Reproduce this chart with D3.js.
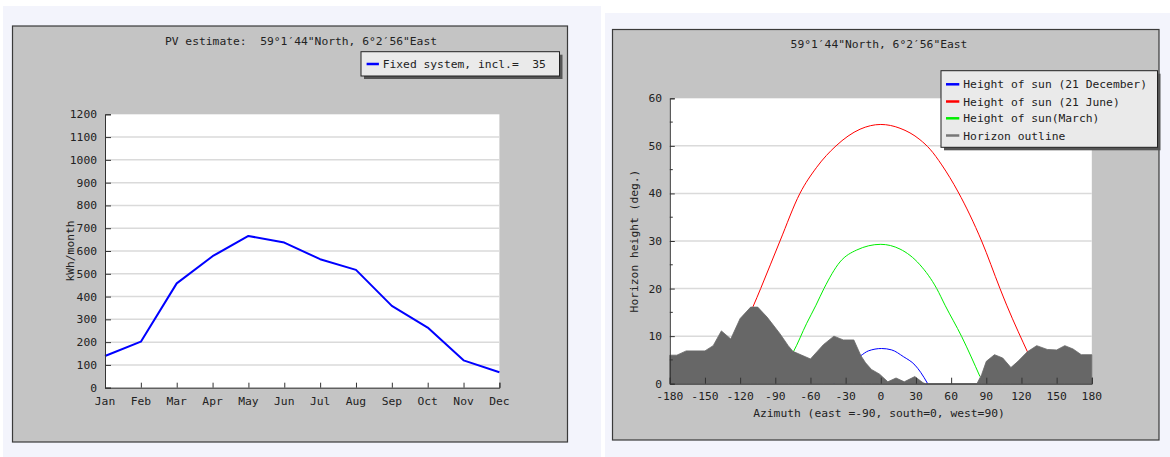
<!DOCTYPE html>
<html>
<head>
<meta charset="utf-8">
<script src="https://cdn.jsdelivr.net/npm/d3@7"></script>
<style>
  html, body { margin: 0; padding: 0; background: #ffffff; }
  svg { display: block; }
  text { font-family: "DejaVu Sans Mono", monospace; font-size: 11.3px; fill: #222; white-space: pre; }
</style>
</head>
<body>
<svg id="chart" width="1170" height="457"></svg>
<script>
// ---- PV estimate (monthly production) ----
const months = ["Jan", "Feb", "Mar", "Apr", "May", "Jun", "Jul", "Aug", "Sep", "Oct", "Nov", "Dec"];
const pvMonthly = [139, 202, 458, 577, 666, 637, 564, 517, 359, 264, 120, 68];
const pvTicks = [0, 100, 200, 300, 400, 500, 600, 700, 800, 900, 1000, 1100, 1200];

// ---- Horizon / sun path (azimuth in degrees, height in degrees) ----
const azimuthTicks = [-180, -150, -120, -90, -60, -30, 0, 30, 60, 90, 120, 150, 180];
const heightTicks = [0, 10, 20, 30, 40, 50, 60];

const sunDecAz = [-40, -30, -17, -10.6, 0.7, 9.3, 19.2, 29.2, 34, 40];
const sunDecH  = [0, 3.6, 5.9, 6.9, 7.4, 7.1, 5.7, 3.9, 2.4, 0];

const sunJunAz = [-128, -120, -109, -102.5, -86, -69, -54.7, -38.2, -17.7, 0, 16.4, 33.4, 42, 52, 66, 86, 101.7, 107.4, 117.3, 125.3, 132];
const sunJunH  = [5, 10.5, 16.2, 20, 30, 40, 45.5, 50, 53.5, 54.5, 53.7, 51.3, 49.3, 46, 40.3, 30, 20, 16.5, 10.9, 6.6, 3];

const sunMarAz = [-86, -74.6, -63.2, -55.3, -48.5, -34.8, -20.6, 0, 16.4, 33.4, 47.7, 54.8, 69, 84.6];
const sunMarH  = [2.5, 6.7, 12.7, 16.5, 20, 25.6, 28.1, 29.3, 28.3, 25, 20, 16.5, 9.9, 1.5];

const horizonAz = [-180, -174, -166, -150, -143, -136, -128, -120, -111, -105, -97, -86, -79, -75, -60, -49, -40, -32, -23, -17, -13, -8, -1, 6, 13, 20, 29, 36, 38, 82, 86, 90, 97, 104, 111, 117, 125, 133, 142, 150, 157, 164, 171, 180];
const horizonH  = [6.0, 6.0, 6.9, 6.9, 8.0, 11.1, 9.4, 13.7, 16.1, 16.1, 14.0, 10.5, 8.0, 6.8, 5.2, 8.2, 10.0, 9.2, 9.2, 5.9, 4.4, 3.0, 2.0, 0.4, 1.2, 0.4, 1.5, 0.2, 0, 0, 1.9, 4.7, 6.1, 5.4, 3.4, 4.7, 6.7, 8.0, 7.2, 7.1, 8.0, 7.3, 6.1, 6.1];

const svg = d3.select("#chart");

// page backgrounds behind each panel
svg.append("rect").attr("x", 3).attr("y", 6).attr("width", 598).attr("height", 451).attr("fill", "#f3f4fc");
svg.append("rect").attr("x", 605).attr("y", 13).attr("width", 565).attr("height", 444).attr("fill", "#f3f4fc");

function panel(x, y, w, h) {
  svg.append("rect").attr("x", x).attr("y", y).attr("width", w).attr("height", h)
    .attr("fill", "#c4c4c4").attr("stroke", "#3a3a3a").attr("stroke-width", 1.2);
}

function legendBox(x, y, w, h) {
  svg.append("rect").attr("x", x + 3).attr("y", y + 3).attr("width", w).attr("height", h).attr("fill", "#555");
  svg.append("rect").attr("x", x).attr("y", y).attr("width", w).attr("height", h)
    .attr("fill", "#eaeaea").attr("stroke", "#222").attr("stroke-width", 1);
}

// ================= Left chart =================
panel(12.5, 26, 555, 416);

const x1 = d3.scalePoint().domain(months).range([105, 499.4]);
const y1 = d3.scaleLinear().domain([0, 1200]).range([387.7, 114.3]);

svg.append("rect").attr("x", 105).attr("y", 114.3).attr("width", 394.4).attr("height", 273.4).attr("fill", "#fff");

svg.append("g").selectAll("line").data(pvTicks.filter(d => d > 0 && d < 1200)).join("line")
  .attr("x1", 105).attr("x2", 499.4)
  .attr("y1", d => y1(d)).attr("y2", d => y1(d))
  .attr("stroke", "#dadada").attr("stroke-width", 1.5);

svg.append("path")
  .datum(pvMonthly)
  .attr("fill", "none").attr("stroke", "#0000ff").attr("stroke-width", 2)
  .attr("stroke-linejoin", "round")
  .attr("d", d3.line().x((d, i) => x1(months[i])).y(d => y1(d)));

// y axis with ticks pointing into the plot
const gy1 = svg.append("g").attr("transform", "translate(105,0)")
  .call(d3.axisRight(y1).tickValues(pvTicks).tickSize(6).tickFormat(""));
gy1.select(".domain").attr("stroke", "#333");
gy1.selectAll(".tick line").attr("stroke", "#333");
svg.append("g").selectAll("text").data(pvTicks).join("text")
  .attr("x", 97).attr("y", d => y1(d) + 4).attr("text-anchor", "end").text(d => d);

const gx1 = svg.append("g").attr("transform", "translate(0,387.7)")
  .call(d3.axisTop(x1).tickSize(5).tickFormat(""));
gx1.select(".domain").attr("stroke", "#333");
gx1.selectAll(".tick line").attr("stroke", "#333");
svg.append("g").selectAll("text").data(months).join("text")
  .attr("x", d => x1(d)).attr("y", 404.5).attr("text-anchor", "middle").text(d => d);

svg.append("text").attr("transform", "translate(74,251) rotate(-90)")
  .attr("text-anchor", "middle").text("kWh/month");

svg.append("text").attr("x", 301).attr("y", 44.7).attr("text-anchor", "middle")
  .text("PV estimate:  59°1′44\"North, 6°2′56\"East");

legendBox(361, 51.7, 198.5, 24.3);
svg.append("line").attr("x1", 366.6).attr("x2", 378.9).attr("y1", 64).attr("y2", 64)
  .attr("stroke", "#0000ff").attr("stroke-width", 2.5);
svg.append("text").attr("x", 382.7).attr("y", 67.5).text("Fixed system, incl.=  35");

// ================= Right chart =================
panel(612.5, 29.5, 546.5, 410.5);

const x2 = d3.scaleLinear().domain([-180, 180]).range([669.8, 1091.8]);
const y2 = d3.scaleLinear().domain([0, 60]).range([383.7, 98.3]);

svg.append("rect").attr("x", 669.8).attr("y", 98.3).attr("width", 422).attr("height", 285.4).attr("fill", "#fff");

svg.append("g").selectAll("line").data(heightTicks.filter(d => d > 0 && d < 60)).join("line")
  .attr("x1", 669.8).attr("x2", 1091.8)
  .attr("y1", d => y2(d)).attr("y2", d => y2(d))
  .attr("stroke", "#dadada").attr("stroke-width", 1.5);

// sun paths are smooth arcs through the sampled points
const curve = (az, h) => d3.line().curve(d3.curveMonotoneX)
  .x((d, i) => x2(az[i])).y((d, i) => y2(h[i]))(az);

svg.append("path").attr("d", curve(sunJunAz, sunJunH)).attr("fill", "none").attr("stroke", "#ff0000").attr("stroke-width", 1);
svg.append("path").attr("d", curve(sunMarAz, sunMarH)).attr("fill", "none").attr("stroke", "#00ee00").attr("stroke-width", 1);
svg.append("path").attr("d", curve(sunDecAz, sunDecH)).attr("fill", "none").attr("stroke", "#0000ff").attr("stroke-width", 1);

const horizonArea = d3.area()
  .x((d, i) => x2(horizonAz[i]))
  .y0(y2(0))
  .y1((d, i) => y2(horizonH[i]));
svg.append("path").attr("d", horizonArea(horizonAz)).attr("fill", "#676767").attr("stroke", "#676767").attr("stroke-width", 0.8);

const minorHeights = d3.range(5, 60, 10);
const gy2 = svg.append("g").attr("transform", "translate(669.8,0)")
  .call(d3.axisRight(y2).tickValues(heightTicks).tickSize(5).tickFormat(""));
gy2.select(".domain").attr("stroke", "#333");
gy2.selectAll(".tick line").attr("stroke", "#333");
svg.append("g").selectAll("line").data(minorHeights).join("line")
  .attr("x1", 669.8).attr("x2", 672.8)
  .attr("y1", d => y2(d)).attr("y2", d => y2(d)).attr("stroke", "#333");
svg.append("g").selectAll("text").data(heightTicks).join("text")
  .attr("x", 662).attr("y", d => y2(d) + 4).attr("text-anchor", "end").text(d => d);

const gx2 = svg.append("g").attr("transform", "translate(0,383.7)")
  .call(d3.axisTop(x2).tickValues(azimuthTicks).tickSize(6).tickFormat(""));
gx2.select(".domain").attr("stroke", "#333");
gx2.selectAll(".tick line").attr("stroke", "#333");
svg.append("g").selectAll("text").data(azimuthTicks).join("text")
  .attr("x", d => x2(d)).attr("y", 400).attr("text-anchor", "middle").text(d => d);

svg.append("text").attr("x", 879).attr("y", 417.3).attr("text-anchor", "middle")
  .text("Azimuth (east =-90, south=0, west=90)");
svg.append("text").attr("transform", "translate(638,241) rotate(-90)")
  .attr("text-anchor", "middle").text("Horizon height (deg.)");
svg.append("text").attr("x", 879).attr("y", 48).attr("text-anchor", "middle")
  .text("59°1′44\"North, 6°2′56\"East");

legendBox(941, 70.7, 216.5, 76.6);
const legendItems = ["Height of sun (21 December)", "Height of sun (21 June)", "Height of sun(March)", "Horizon outline"];
const legendColors = ["#0000ff", "#ff0000", "#00ee00", "#777777"];
const legendRows = [84.3, 101.5, 118.3, 135.5];
legendItems.forEach((label, i) => {
  svg.append("line").attr("x1", 946).attr("x2", 959.3).attr("y1", legendRows[i]).attr("y2", legendRows[i])
    .attr("stroke", legendColors[i]).attr("stroke-width", 2.5);
  svg.append("text").attr("x", 963.3).attr("y", legendRows[i] + 4).text(label);
});
</script>
</body>
</html>
